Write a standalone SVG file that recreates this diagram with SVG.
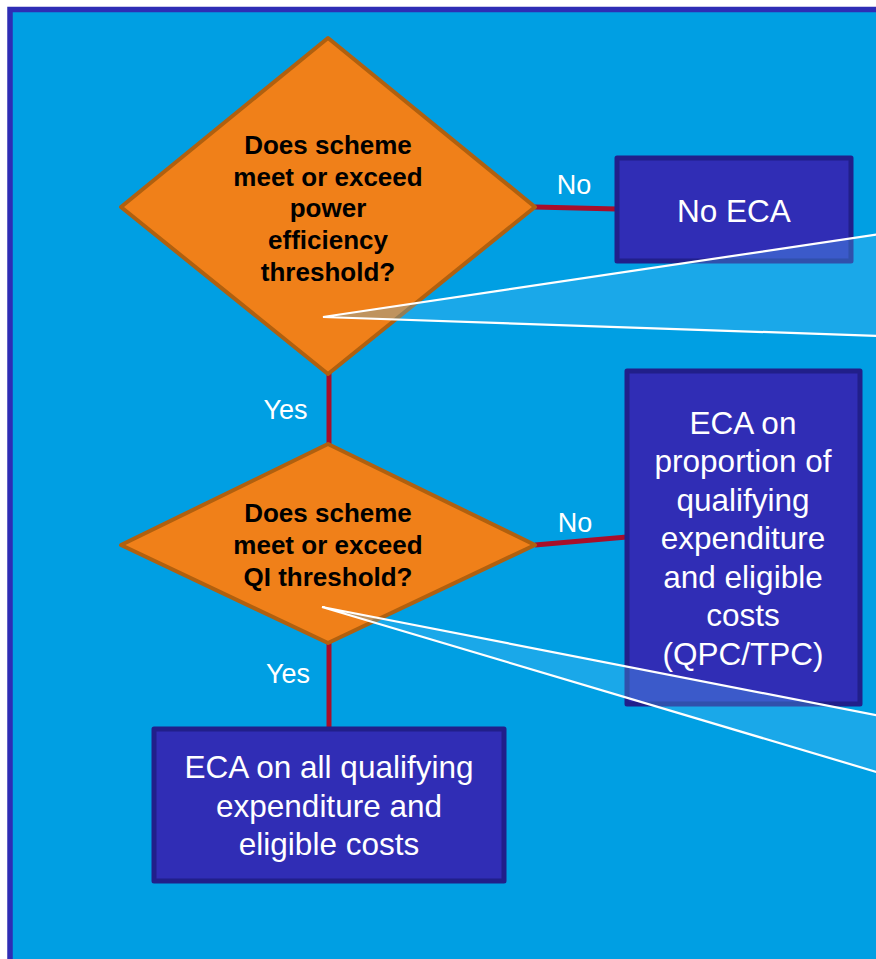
<svg xmlns="http://www.w3.org/2000/svg" width="876" height="959" viewBox="0 0 876 959">
<style>
.dia{fill:#F08019;stroke:#B0600F;stroke-width:4;stroke-linejoin:round}
.box{fill:#302DB5;stroke:#211F8A;stroke-width:5;stroke-linejoin:round}
.q{font-family:"Liberation Sans",Arial,sans-serif;font-weight:bold;font-size:26px;fill:#000;text-anchor:middle}
.t{font-family:"Liberation Sans",Arial,sans-serif;font-size:31.5px;fill:#fff;text-anchor:middle}
.lbl{font-family:"Liberation Sans",Arial,sans-serif;font-size:27px;fill:#fff;text-anchor:middle}
.con{stroke:#A80E2A;stroke-width:5;fill:none}
.wedge{fill:#54BFFA;fill-opacity:0.31;stroke:none}
.wl{stroke:#fff;stroke-width:2.2;fill:none;stroke-linecap:round}
</style>
<rect x="0" y="0" width="876" height="959" fill="#fff"/>
<rect x="10" y="9.5" width="880" height="970" fill="#009FE3" stroke="#2E2DB5" stroke-width="5.5"/>
<g id="connectors">
<line class="con" x1="535" y1="207" x2="617" y2="209"/>
<line class="con" x1="329" y1="373" x2="329" y2="445"/>
<line class="con" x1="535" y1="545" x2="627" y2="537"/>
<line class="con" x1="329" y1="643" x2="329" y2="728"/>
<text class="lbl" x="574" y="194">No</text>
<text class="lbl" x="285.5" y="419">Yes</text>
<text class="lbl" x="575" y="532">No</text>
<text class="lbl" x="288" y="683">Yes</text>
</g>
<g id="d1">
<polygon class="dia" points="328,38 535,207 328,374 121,207"/>
<text class="q" x="328" y="154">Does scheme</text>
<text class="q" x="328" y="186">meet or exceed</text>
<text class="q" x="328" y="217">power</text>
<text class="q" x="328" y="249">efficiency</text>
<text class="q" x="328" y="281">threshold?</text>
</g>
<g id="d2">
<polygon class="dia" points="328,444 535,545 328,643 121,545"/>
<text class="q" x="328" y="522">Does scheme</text>
<text class="q" x="328" y="554">meet or exceed</text>
<text class="q" x="328" y="586">QI threshold?</text>
</g>
<g id="noeca">
<rect class="box" x="617" y="158" width="234" height="103"/>
<text class="t" x="734" y="222">No ECA</text>
</g>
<g id="proportion">
<rect class="box" x="627" y="371" width="233" height="333"/>
<text class="t" x="743" y="434">ECA on</text>
<text class="t" x="743" y="472">proportion of</text>
<text class="t" x="743" y="511">qualifying</text>
<text class="t" x="743" y="549">expenditure</text>
<text class="t" x="743" y="588">and eligible</text>
<text class="t" x="743" y="626">costs</text>
<text class="t" x="743" y="665">(QPC/TPC)</text>
</g>
<g id="all">
<rect class="box" x="154" y="729" width="350" height="152"/>
<text class="t" x="329" y="778">ECA on all qualifying</text>
<text class="t" x="329" y="817">expenditure and</text>
<text class="t" x="329" y="855">eligible costs</text>
</g>
<g id="callouts">
<polygon class="wedge" points="323,317 880,234 880,336"/>
<polyline class="wl" points="880,234 323,317 880,336"/>
<polygon class="wedge" points="322,607 880,716 880,773"/>
<polyline class="wl" points="880,716 322,607 880,773"/>
</g>
</svg>
